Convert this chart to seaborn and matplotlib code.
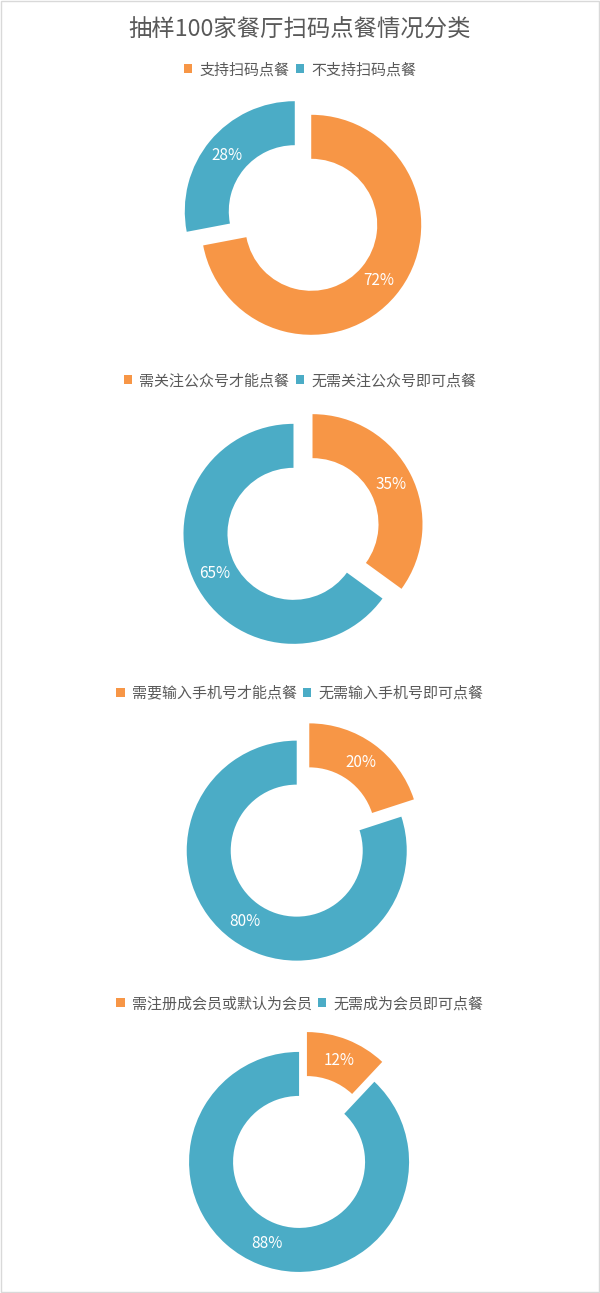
import matplotlib
matplotlib.use("Agg")
import matplotlib.pyplot as plt
import seaborn as sns
from matplotlib.patches import Patch, Rectangle

sns.set_theme(style="white")
plt.rcParams['font.family'] = ['Noto Sans CJK SC', 'DejaVu Sans']

title = "抽样100家餐厅扫码点餐情况分类"
panel_labels = [
    ["支持扫码点餐", "不支持扫码点餐"],
    ["需关注公众号才能点餐", "无需关注公众号即可点餐"],
    ["需要输入手机号才能点餐", "无需输入手机号即可点餐"],
    ["需注册成会员或默认为会员", "无需成为会员即可点餐"],
]
first_share = [72, 35, 20, 12]
second_share = [28, 65, 80, 88]
colors = ["#F79646", "#4BACC6"]

W, H = 600, 1293
fig = plt.figure(figsize=(W / 100, H / 100), dpi=100)
fig.patch.set_facecolor("white")

# faint frame
fig.add_artist(Rectangle((0.002, 0.0005), 0.996, 0.999, transform=fig.transFigure,
                         fill=False, edgecolor="#D9D9D9", linewidth=1))

fig.text(0.5, 1 - 30 / H, title, ha="center", va="center", fontsize=16.8, color="#595959")

centers_y = [218, 529, 842, 1152]
legend_y = [70, 381, 693, 1004]
cx = 303
half = 137.5

for i in range(4):
    cy = centers_y[i]
    ax = fig.add_axes([(cx - half) / W, 1 - (cy + half) / H, 2 * half / W, 2 * half / H])
    vals = [first_share[i], second_share[i]]
    wedges, _, autotexts = ax.pie(
        vals, colors=colors, startangle=90, counterclock=False,
        explode=[0.097, 0.097], radius=1.0, pctdistance=0.8,
        autopct="%.0f%%", wedgeprops=dict(width=0.4, linewidth=0),
        textprops=dict(color="white", fontsize=11),
    )
    ax.set_xlim(-1.25, 1.25)
    ax.set_ylim(-1.25, 1.25)
    ax.set_aspect("equal")
    ax.axis("off")
    handles = [Patch(facecolor=colors[0], edgecolor="none"),
               Patch(facecolor=colors[1], edgecolor="none")]
    fig.legend(handles, panel_labels[i], loc="center",
               bbox_to_anchor=(0.5, 1 - legend_y[i] / H), ncol=2, frameon=False,
               fontsize=10.8, labelcolor="#595959", handlelength=0.55, handleheight=0.55,
               handletextpad=0.5, columnspacing=0.4, borderpad=0, borderaxespad=0)

fig.savefig("out.png", dpi=100, facecolor="white")
